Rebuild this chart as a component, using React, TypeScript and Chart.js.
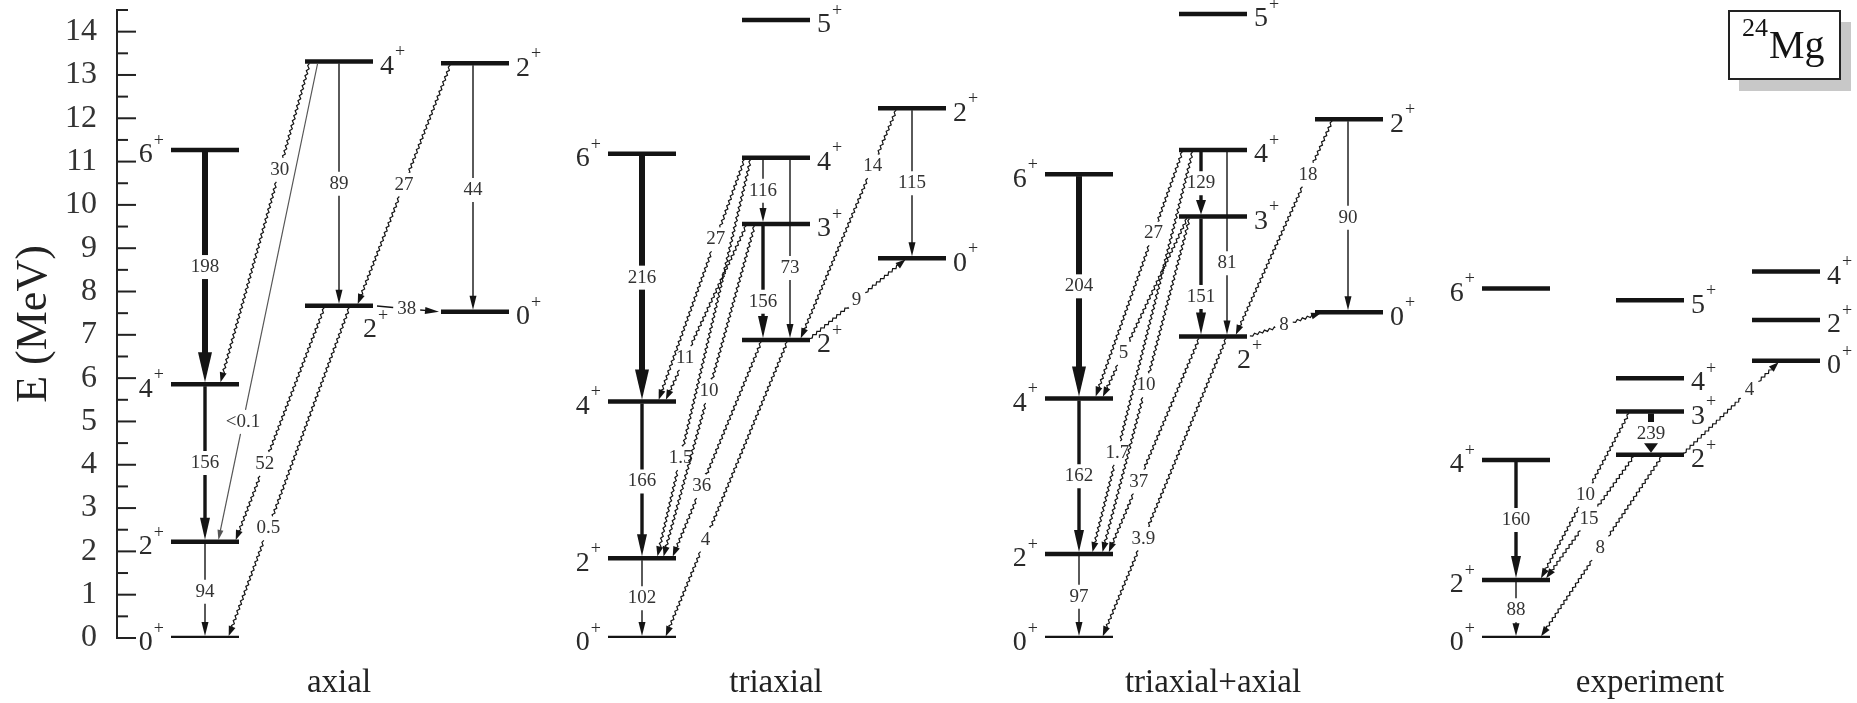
import React, { useEffect, useRef } from "react";
import { Chart, registerables } from "chart.js";

Chart.register(...registerables);

const SERIF = '"Liberation Serif", "Times New Roman", serif';
const INK = "#141414";

// Titles written under the four level schemes
const panelTitles = ["axial", "triaxial", "triaxial+axial", "experiment"];

// Energy axis (MeV)
const energyMin = 0;
const energyMax = 14.5;
const energyStep = 0.5;

// ---------- axial ----------
const axialSpins = ["0", "2", "4", "6", "2", "4", "0", "2"];
const axialEnergies = [0, 2.22, 5.86, 11.27, 7.67, 13.31, 7.53, 13.27];
const axialFrom = [1, 2, 3, 5, 5, 5, 7, 7, 4, 4, 4];
const axialTo = [0, 1, 2, 2, 1, 4, 4, 6, 1, 0, 6];
const axialBE2 = ["94", "156", "198", "30", "<0.1", "89", "27", "44", "52", "0.5", "38"];

// ---------- triaxial ----------
const triaxialSpins = ["0", "2", "4", "6", "2", "3", "4", "5", "0", "2"];
const triaxialEnergies = [0, 1.84, 5.46, 11.18, 6.88, 9.56, 11.09, 14.27, 8.77, 12.23];
const triaxialFrom = [1, 2, 3, 6, 6, 5, 9, 9, 4, 6, 5, 6, 5, 4, 4];
const triaxialTo = [0, 1, 2, 5, 4, 4, 8, 4, 8, 2, 2, 1, 1, 1, 0];
const triaxialBE2 = ["102", "166", "216", "116", "73", "156", "115", "14", "9", "27", "11", "1.5", "10", "36", "4"];

// ---------- triaxial+axial ----------
const mixedSpins = ["0", "2", "4", "6", "2", "3", "4", "5", "0", "2"];
const mixedEnergies = [0, 1.94, 5.53, 10.71, 6.96, 9.73, 11.27, 14.41, 7.52, 11.98];
const mixedFrom = [1, 2, 3, 6, 5, 6, 9, 9, 4, 6, 5, 6, 5, 4, 4];
const mixedTo = [0, 1, 2, 5, 4, 4, 8, 4, 8, 2, 2, 1, 1, 1, 0];
const mixedBE2 = ["97", "162", "204", "129", "151", "81", "90", "18", "8", "27", "5", "1.7", "10", "37", "3.9"];

// ---------- experiment ----------
const experimentSpins = ["0", "2", "4", "6", "2", "3", "4", "5", "0", "2", "4"];
const experimentEnergies = [0, 1.34, 4.11, 8.07, 4.23, 5.23, 6.0, 7.8, 6.4, 7.34, 8.46];
const experimentFrom = [1, 2, 5, 5, 4, 4, 4];
const experimentTo = [0, 1, 4, 1, 1, 0, 8];
const experimentBE2 = ["88", "160", "239", "10", "15", "8", "4"];

// ---------- layout (x units are pixels of the plot area) ----------
const PANEL_STEP = 437;
const FIRST_COLUMN = 54;
const COLUMN_OFFSETS = [0, 134, 270];
const LEVEL_WIDTH = 68;
const TITLE_OFFSET = 168;

type Side = "L" | "R" | "B";
type Stroke = "thick" | "medium" | "thin" | "wavy" | "faint";

const axialColumns = [0, 0, 0, 0, 1, 1, 2, 2];
const axialSides: Side[] = ["L", "L", "L", "L", "B", "R", "R", "R"];
const axialStrokes: Stroke[] = ["thin", "medium", "thick", "wavy", "faint", "thin", "wavy", "thin", "wavy", "wavy", "thin"];
const axialAnchors = [[34, 34], [34, 34], [34, 34], [5, 49], [13, 47], [34, 34], [10, 52], [32, 32], [20, 64], [45, 57], [70, 0]];
const axialLabelAt = [0.52, 0.5, 0.5, 0.336, 0.75, 0.5, 0.5, 0.51, 0.67, 0.67, 0.48];

const triaxialColumns = [0, 0, 0, 0, 1, 1, 1, 1, 2, 2];
const triaxialSides: Side[] = ["L", "L", "L", "L", "R", "R", "R", "R", "R", "R"];
const triaxialStrokes: Stroke[] = ["thin", "medium", "thick", "thin", "thin", "medium", "thin", "wavy", "wavy", "wavy", "wavy", "wavy", "wavy", "wavy", "wavy"];
const triaxialAnchors = [[34, 34], [34, 34], [34, 34], [21, 21], [48, 48], [21, 21], [34, 34], [19, 58], [66, 29], [3, 50], [5, 57], [9, 49], [13, 55], [20, 64], [46, 57]];
const triaxialLabelAt = [0.5, 0.51, 0.5, 0.5, 0.605, 0.67, 0.5, 0.25, 0.49, 0.335, 0.755, 0.75, 0.5, 0.67, 0.67];

const mixedColumns = [0, 0, 0, 0, 1, 1, 1, 1, 2, 2];
const mixedSides: Side[] = ["L", "L", "L", "L", "B", "R", "R", "R", "R", "R"];
const mixedStrokes: Stroke[] = ["thin", "medium", "thick", "medium", "medium", "thin", "thin", "wavy", "wavy", "wavy", "wavy", "wavy", "wavy", "wavy", "wavy"];
const mixedAnchors = [[34, 34], [34, 34], [34, 34], [22, 22], [22, 22], [48, 48], [33, 33], [18, 56], [69, 8], [4, 50], [9, 57], [14, 47], [11, 57], [21, 63], [48, 57]];
const mixedLabelAt = [0.51, 0.5, 0.5, 0.5, 0.67, 0.607, 0.51, 0.256, 0.48, 0.336, 0.75, 0.75, 0.5, 0.667, 0.67];

const experimentColumns = [0, 0, 0, 0, 1, 1, 1, 1, 2, 2, 2];
const experimentSides: Side[] = ["L", "L", "L", "L", "R", "R", "R", "R", "R", "R", "R"];
const experimentStrokes: Stroke[] = ["thin", "medium", "thick", "wavy", "wavy", "wavy", "wavy"];
const experimentAnchors = [[34, 34], [34, 34], [35, 35], [14, 58], [19, 63], [47, 58], [66, 28]];
const experimentLabelAt = [0.52, 0.5, 0.52, 0.495, 0.51, 0.51, 0.69];

interface PanelSpec {
  spins: string[];
  energies: number[];
  from: number[];
  to: number[];
  values: string[];
  columns: number[];
  sides: Side[];
  strokes: Stroke[];
  anchors: number[][];
  labelAt: number[];
}

const panels: PanelSpec[] = [
  { spins: axialSpins, energies: axialEnergies, from: axialFrom, to: axialTo, values: axialBE2, columns: axialColumns, sides: axialSides, strokes: axialStrokes, anchors: axialAnchors, labelAt: axialLabelAt },
  { spins: triaxialSpins, energies: triaxialEnergies, from: triaxialFrom, to: triaxialTo, values: triaxialBE2, columns: triaxialColumns, sides: triaxialSides, strokes: triaxialStrokes, anchors: triaxialAnchors, labelAt: triaxialLabelAt },
  { spins: mixedSpins, energies: mixedEnergies, from: mixedFrom, to: mixedTo, values: mixedBE2, columns: mixedColumns, sides: mixedSides, strokes: mixedStrokes, anchors: mixedAnchors, labelAt: mixedLabelAt },
  { spins: experimentSpins, energies: experimentEnergies, from: experimentFrom, to: experimentTo, values: experimentBE2, columns: experimentColumns, sides: experimentSides, strokes: experimentStrokes, anchors: experimentAnchors, labelAt: experimentLabelAt },
];

const titleCenters = panelTitles.map((_, i) => FIRST_COLUMN + TITLE_OFFSET + i * PANEL_STEP);

const STROKES: Record<Stroke, { width: number; head: number; half: number; color: string; wavy: boolean }> = {
  thick: { width: 6, head: 30, half: 7, color: INK, wavy: false },
  medium: { width: 3.4, head: 22, half: 5, color: INK, wavy: false },
  thin: { width: 1.4, head: 14, half: 3.5, color: INK, wavy: false },
  wavy: { width: 1.2, head: 10, half: 3.5, color: INK, wavy: true },
  faint: { width: 1.2, head: 10, half: 3, color: "#555", wavy: false },
};

function buildDatasets() {
  const sets: any[] = [];
  panels.forEach((p, pi) => {
    const base = FIRST_COLUMN + pi * PANEL_STEP;
    const left = (i: number) => base + COLUMN_OFFSETS[p.columns[i]];
    p.energies.forEach((e, i) => {
      sets.push({
        role: "level",
        spin: p.spins[i],
        side: p.sides[i],
        data: [
          { x: left(i), y: e },
          { x: left(i) + LEVEL_WIDTH, y: e },
        ],
        borderColor: INK,
        borderWidth: 4.5,
        borderCapStyle: "butt",
        pointRadius: 0,
        fill: false,
      });
    });
    p.from.forEach((f, k) => {
      const t = p.to[k];
      sets.push({
        role: "transition",
        stroke: p.strokes[k],
        label: p.values[k],
        labelAt: p.labelAt[k],
        data: [
          { x: left(f) + p.anchors[k][0], y: p.energies[f] },
          { x: left(t) + p.anchors[k][1], y: p.energies[t] },
        ],
        showLine: false,
        pointRadius: 0,
      });
    });
  });
  return sets;
}

// Liang–Barsky clip of segment a + s*(dx,dy), s in [0,1], against a rectangle
function clipToRect(ax: number, ay: number, dx: number, dy: number, x0: number, y0: number, x1: number, y1: number): [number, number] | null {
  let t0 = 0;
  let t1 = 1;
  const p = [-dx, dx, -dy, dy];
  const q = [ax - x0, x1 - ax, ay - y0, y1 - ay];
  for (let i = 0; i < 4; i++) {
    if (p[i] === 0) {
      if (q[i] < 0) return null;
    } else {
      const r = q[i] / p[i];
      if (p[i] < 0) {
        if (r > t1) return null;
        if (r > t0) t0 = r;
      } else {
        if (r < t0) return null;
        if (r < t1) t1 = r;
      }
    }
  }
  return [t0, t1];
}

function strokePiece(ctx: CanvasRenderingContext2D, ax: number, ay: number, ux: number, uy: number, s0: number, s1: number, wavy: boolean) {
  if (s1 - s0 < 0.5) return;
  ctx.beginPath();
  ctx.moveTo(ax + ux * s0, ay + uy * s0);
  if (!wavy) {
    ctx.lineTo(ax + ux * s1, ay + uy * s1);
  } else {
    const nx = -uy;
    const ny = ux;
    const step = 2.6;
    const amp = 1.1;
    let s = s0;
    let k = 0;
    while (s < s1) {
      s = Math.min(s + step, s1);
      k++;
      const off = s >= s1 ? 0 : k % 2 ? amp : -amp;
      ctx.lineTo(ax + ux * s + nx * off, ay + uy * s + ny * off);
    }
  }
  ctx.stroke();
}

function drawTransition(ctx: CanvasRenderingContext2D, a: { x: number; y: number }, b: { x: number; y: number }, kind: Stroke, label: string, at: number) {
  const st = STROKES[kind];
  const dx = b.x - a.x;
  const dy = b.y - a.y;
  const len = Math.hypot(dx, dy);
  if (len < 1) return;
  const ux = dx / len;
  const uy = dy / len;
  const head = Math.min(st.head, len * 0.22);
  const tipS = len - 2;
  const shaftEnd = tipS - head * 0.8;
  const startS = 2;

  ctx.font = `19px ${SERIF}`;
  const w = ctx.measureText(label).width;
  const cx = a.x + dx * at;
  const cy = a.y + dy * at;
  const gap = clipToRect(a.x, a.y, dx, dy, cx - w / 2 - 4, cy - 12, cx + w / 2 + 4, cy + 12);

  ctx.save();
  ctx.strokeStyle = st.color;
  ctx.lineWidth = st.width;
  ctx.lineCap = "butt";
  ctx.lineJoin = "miter";
  if (gap) {
    strokePiece(ctx, a.x, a.y, ux, uy, startS, Math.min(gap[0] * len, shaftEnd), st.wavy);
    strokePiece(ctx, a.x, a.y, ux, uy, Math.max(gap[1] * len, startS), shaftEnd, st.wavy);
  } else {
    strokePiece(ctx, a.x, a.y, ux, uy, startS, shaftEnd, st.wavy);
  }
  const tx = a.x + ux * tipS;
  const ty = a.y + uy * tipS;
  const bx = tx - ux * head;
  const by = ty - uy * head;
  ctx.fillStyle = st.color;
  ctx.beginPath();
  ctx.moveTo(tx, ty);
  ctx.lineTo(bx - uy * st.half, by + ux * st.half);
  ctx.lineTo(bx + uy * st.half, by - ux * st.half);
  ctx.closePath();
  ctx.fill();

  ctx.fillStyle = "#333";
  ctx.textAlign = "center";
  ctx.textBaseline = "middle";
  ctx.fillText(label, cx, cy);
  ctx.restore();
}

function drawSpin(ctx: CanvasRenderingContext2D, xl: number, xr: number, y: number, spin: string, side: Side) {
  ctx.save();
  ctx.fillStyle = "#2a2a2a";
  ctx.textAlign = "left";
  ctx.textBaseline = "middle";
  ctx.font = `28px ${SERIF}`;
  const wd = ctx.measureText(spin).width;
  ctx.font = `18px ${SERIF}`;
  const wp = ctx.measureText("+").width;
  let left: number;
  let cy = y + 5;
  if (side === "L") left = xl - 7 - (wd + 1 + wp);
  else if (side === "R") left = xr + 7;
  else {
    left = xr - 10;
    cy = y + 24;
  }
  ctx.font = `28px ${SERIF}`;
  ctx.fillText(spin, left, cy);
  ctx.font = `18px ${SERIF}`;
  ctx.fillText("+", left + wd + 1, cy - 14);
  ctx.restore();
}

const schemePlugin = {
  id: "levelScheme",
  afterDatasetsDraw(chart: any) {
    const ctx: CanvasRenderingContext2D = chart.ctx;
    const area = chart.chartArea;
    const ys = chart.scales.y;

    // inward tick marks on the energy axis
    ctx.save();
    ctx.strokeStyle = "#222";
    ctx.lineWidth = 2;
    ys.ticks.forEach((t: any) => {
      const v = t.value;
      const py = ys.getPixelForValue(v);
      const major = Math.abs(v - Math.round(v)) < 1e-6;
      ctx.beginPath();
      ctx.moveTo(area.left, py);
      ctx.lineTo(area.left + (major ? 19 : 11), py);
      ctx.stroke();
    });
    ctx.restore();

    chart.data.datasets.forEach((ds: any, i: number) => {
      const pts = chart.getDatasetMeta(i).data;
      if (!pts || pts.length < 2) return;
      if (ds.role === "transition") {
        drawTransition(ctx, { x: pts[0].x, y: pts[0].y }, { x: pts[1].x, y: pts[1].y }, ds.stroke, ds.label, ds.labelAt);
      } else if (ds.role === "level") {
        drawSpin(ctx, pts[0].x, pts[1].x, pts[0].y, ds.spin, ds.side);
      }
    });
  },
  afterDraw(chart: any) {
    // nucleus badge in the upper right corner
    const ctx: CanvasRenderingContext2D = chart.ctx;
    const w = 111;
    const h = 68;
    const x = chart.width - 17 - w;
    const y = 11;
    ctx.save();
    ctx.fillStyle = "#c8c8c8";
    ctx.fillRect(x + 10, y + 11, w + 1, h + 1);
    ctx.fillStyle = "#fff";
    ctx.fillRect(x, y, w, h);
    ctx.strokeStyle = "#222";
    ctx.lineWidth = 2;
    ctx.strokeRect(x, y, w, h);
    ctx.fillStyle = INK;
    ctx.textAlign = "left";
    ctx.textBaseline = "alphabetic";
    ctx.font = `26px ${SERIF}`;
    ctx.fillText("24", x + 13, y + 25);
    const w24 = ctx.measureText("24").width;
    ctx.font = `40px ${SERIF}`;
    ctx.fillText("Mg", x + 13 + w24 + 1, y + 47);
    ctx.restore();
  },
};

export default function App() {
  const canvasRef = useRef<HTMLCanvasElement | null>(null);

  useEffect(() => {
    document.body.style.margin = "0";
    const canvas = canvasRef.current;
    if (!canvas) return;
    const chart = new Chart(canvas, {
      type: "line",
      data: { datasets: buildDatasets() },
      options: {
        animation: false,
        responsive: false,
        maintainAspectRatio: false,
        events: [],
        layout: { padding: { top: 10, left: 0, right: 0, bottom: 0 } },
        plugins: { legend: { display: false }, tooltip: { enabled: false } },
        scales: {
          x: {
            type: "linear",
            min: 0,
            max: 1740,
            position: "bottom",
            grid: { display: false, drawTicks: false },
            border: { display: false },
            afterBuildTicks: (scale: any) => {
              scale.ticks = titleCenters.map((v) => ({ value: v }));
            },
            afterFit: (scale: any) => {
              scale.height = 65;
              scale.paddingLeft = 0;
              scale.paddingRight = 0;
            },
            ticks: {
              autoSkip: false,
              maxRotation: 0,
              padding: 26,
              color: "#222",
              font: { family: SERIF, size: 33 },
              callback: (_v: any, i: number) => panelTitles[i],
            },
          },
          y: {
            type: "linear",
            min: energyMin,
            max: energyMax,
            grid: { display: false, drawTicks: false },
            border: { display: true, color: "#222", width: 2 },
            afterFit: (scale: any) => {
              scale.width = 117;
              scale.paddingTop = 0;
              scale.paddingBottom = 0;
            },
            ticks: {
              stepSize: energyStep,
              autoSkip: false,
              padding: 20,
              color: "#333",
              font: { family: SERIF, size: 32 },
              callback: (v: any) => (Math.abs(v - Math.round(v)) < 1e-6 ? String(Math.round(v)) : ""),
            },
            title: {
              display: true,
              text: "E (MeV)",
              color: "#222",
              font: { family: SERIF, size: 44 },
              padding: { top: 8, bottom: 0 },
            },
          },
        },
      } as any,
      plugins: [schemePlugin],
    });
    return () => chart.destroy();
  }, []);

  return <canvas ref={canvasRef} width={1857} height={703} style={{ display: "block" }} />;
}
